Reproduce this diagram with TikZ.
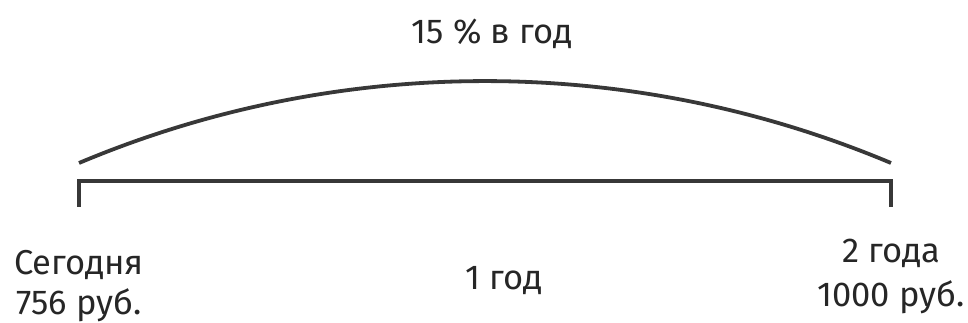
\documentclass[tikz,border=0pt]{standalone}
\usepackage{fontspec}
\setmainfont{Fira Sans}
\begin{document}
\begin{tikzpicture}[x=1pt,y=1pt,
  lbl/.style={inner sep=0pt, text=black!85, font=\fontsize{34.5}{40}\selectfont},
  ln/.style={draw=black!78, line width=3.8pt}]
\useasboundingbox (0,0) rectangle (968,323);
% bracket
\coordinate (bl) at (79,116);
\coordinate (tl) at (79,142);
\coordinate (tr) at (891,142);
\coordinate (br) at (891,116);
\draw[ln, line join=miter] (bl) -- (tl) -- (tr) -- (br);
% arc
\coordinate (as) at (79,160);
\draw[ln, line cap=butt] (as) arc[start angle=112.82, end angle=67.18, radius=1046.9];
% labels
\node[lbl, anchor=base] (rate) at (492,279) {15 \% в год};
\node[lbl, anchor=base] (today) at (79,48) {Сегодня};
\node[lbl, anchor=base] (sum1) at (79,8) {756 руб.};
\node[lbl, anchor=base] (yr) at (504,33) {1 год};
\node[lbl, anchor=base] (two) at (891,60) {2 года};
\node[lbl, anchor=base] (sum2) at (891,16) {1000 руб.};
\end{tikzpicture}
\end{document}
